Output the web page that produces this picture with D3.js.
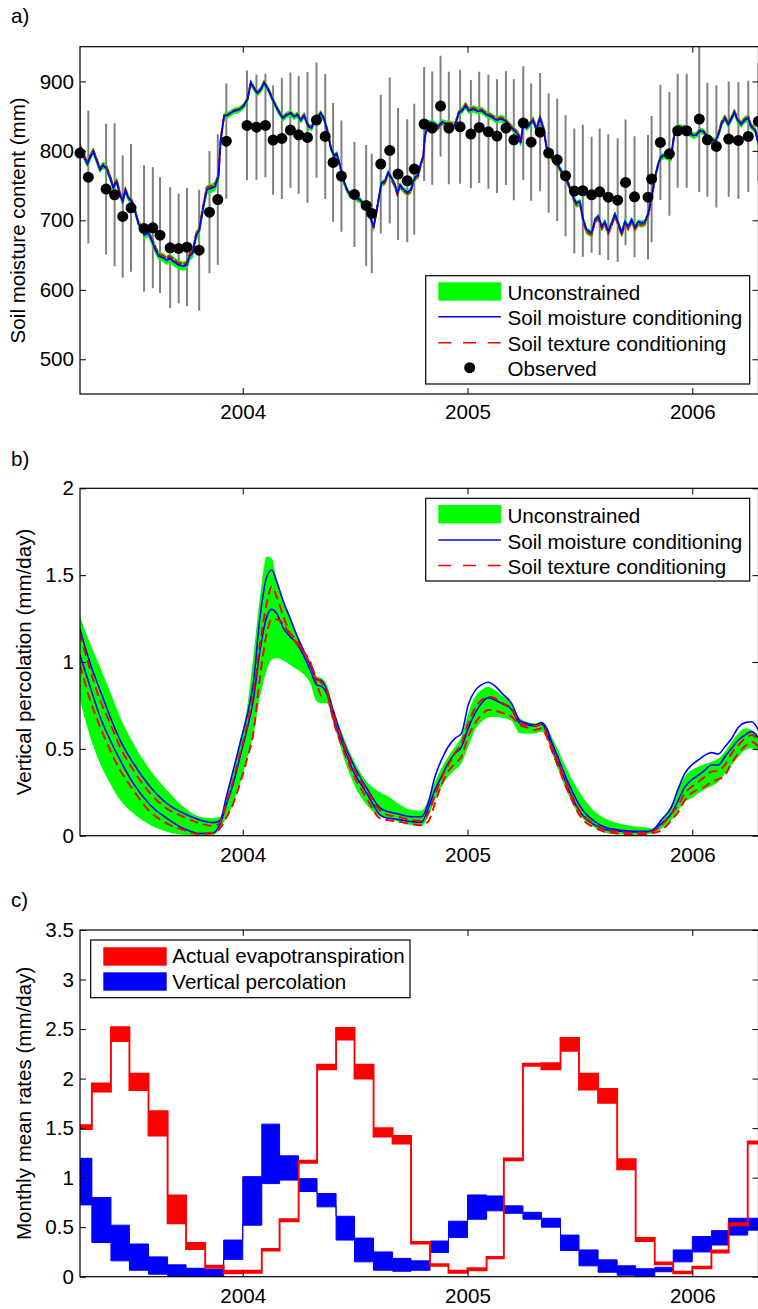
<!DOCTYPE html>
<html><head><meta charset="utf-8">
<script src="https://cdn.jsdelivr.net/npm/d3@7"></script>
<style>
body{margin:0;background:#fff;}
svg{display:block;}
</style></head><body>
<svg id="chart" width="758" height="1309"></svg>
<script>
// ---------------- DATA ----------------
const timeDomain = [2003.276, 2006.2945];
const yearTicks = [2004, 2005, 2006];

// Panel a: soil moisture content (mm)
const smDomain = [450, 950];
const smTicks = [500, 600, 700, 800, 900];
const smTime = [2003.276,2003.291,2003.309,2003.323,2003.335,2003.350,2003.365,2003.380,2003.395,2003.410,2003.424,2003.439,2003.454,2003.466,2003.478,2003.491,2003.506,2003.521,2003.536,2003.550,2003.562,2003.580,2003.595,2003.610,2003.625,2003.647,2003.662,2003.674,2003.691,2003.714,2003.736,2003.751,2003.763,2003.777,2003.792,2003.807,2003.825,2003.840,2003.858,2003.877,2003.892,2003.902,2003.917,2003.936,2003.958,2003.981,2004.003,2004.021,2004.036,2004.050,2004.065,2004.080,2004.095,2004.114,2004.137,2004.159,2004.178,2004.196,2004.214,2004.228,2004.243,2004.258,2004.273,2004.292,2004.307,2004.322,2004.337,2004.347,2004.362,2004.377,2004.392,2004.407,2004.418,2004.433,2004.448,2004.463,2004.478,2004.493,2004.507,2004.522,2004.537,2004.552,2004.567,2004.582,2004.593,2004.604,2004.617,2004.632,2004.647,2004.662,2004.677,2004.688,2004.700,2004.714,2004.733,2004.748,2004.758,2004.769,2004.780,2004.792,2004.803,2004.810,2004.825,2004.840,2004.855,2004.869,2004.887,2004.907,2004.921,2004.944,2004.961,2004.976,2004.991,2005.006,2005.025,2005.048,2005.062,2005.085,2005.107,2005.129,2005.148,2005.166,2005.181,2005.196,2005.211,2005.226,2005.237,2005.249,2005.263,2005.277,2005.292,2005.307,2005.322,2005.337,2005.352,2005.367,2005.381,2005.404,2005.426,2005.445,2005.460,2005.475,2005.485,2005.500,2005.515,2005.530,2005.552,2005.567,2005.582,2005.597,2005.611,2005.626,2005.641,2005.656,2005.671,2005.686,2005.700,2005.715,2005.730,2005.745,2005.760,2005.775,2005.789,2005.804,2005.819,2005.834,2005.849,2005.861,2005.875,2005.890,2005.905,2005.916,2005.923,2005.938,2005.953,2005.967,2005.982,2006.005,2006.019,2006.034,2006.049,2006.064,2006.086,2006.104,2006.119,2006.131,2006.145,2006.160,2006.175,2006.187,2006.202,2006.217,2006.232,2006.249,2006.261,2006.279,2006.294];
const smMoisture = [806,793,781,792,799,786,773,779,774,761,747,756,737,727,743,732,727,713,695,689,679,682,671,659,649,646,642,646,641,636,634,636,648,653,677,686,720,744,746,749,763,816,850,852,857,859,864,874,898,890,883,888,898,888,871,857,847,852,854,849,852,844,851,835,833,847,850,854,846,828,804,793,796,779,758,745,737,740,732,730,724,715,706,690,710,730,754,756,769,761,751,739,751,745,740,744,756,763,765,782,792,821,840,841,839,835,842,838,838,836,854,858,865,858,860,857,858,852,849,844,846,844,838,833,828,823,811,843,833,838,844,830,847,833,804,794,787,779,766,756,744,730,725,727,701,686,682,701,706,691,698,684,696,709,696,682,698,691,701,690,698,696,698,710,734,763,782,792,794,792,790,816,830,834,833,833,826,822,823,829,828,821,816,814,826,840,847,838,847,855,844,838,844,847,835,830,811];
const smTexture = [808,795,783,794,801,788,775,781,776,763,749,758,739,729,745,734,729,715,697,691,682,685,674,662,652,649,645,649,644,639,637,639,651,656,680,689,723,747,749,752,766,817,851,853,858,860,865,875,899,891,884,889,899,889,872,858,848,853,855,850,853,845,852,836,834,848,851,855,847,829,805,792,795,778,757,744,736,739,731,729,723,714,705,689,709,729,752,754,767,759,749,737,749,743,738,742,754,761,763,780,790,819,838,839,837,833,840,840,840,838,856,860,867,860,862,859,860,854,851,846,848,846,840,835,830,825,813,845,835,840,846,832,849,835,806,796,789,777,764,754,742,727,722,724,698,683,679,698,703,688,695,681,693,706,693,679,695,688,698,687,695,693,695,707,731,761,781,791,793,791,789,815,829,835,834,834,827,823,824,830,829,822,817,815,828,842,849,840,849,857,846,840,846,849,837,832,813];
const smUnconLo = [802,789,777,788,795,782,769,775,770,757,743,752,733,723,739,728,723,709,691,685,674,677,666,654,644,640,636,640,635,630,628,630,642,647,671,680,714,738,740,743,757,812,846,848,853,855,860,870,894,886,879,884,894,884,867,853,843,848,850,845,848,840,847,831,829,843,846,850,842,824,800,788,791,774,753,740,732,735,727,725,719,710,701,685,705,725,749,751,764,756,746,734,746,740,735,739,751,758,760,777,787,816,835,836,834,830,837,834,834,832,850,854,861,854,856,853,854,848,845,840,842,840,834,829,824,819,807,839,829,834,840,826,843,829,800,790,783,774,761,751,739,724,719,721,695,680,676,695,700,685,692,678,690,703,690,676,692,685,695,684,692,690,692,704,728,757,777,787,789,787,785,811,825,830,829,829,822,818,819,825,824,817,812,810,822,836,843,834,843,851,840,834,840,843,831,826,807];
const smUnconHi = [811,798,786,797,804,791,778,784,779,766,752,761,742,732,748,737,732,718,700,694,685,688,677,665,655,652,648,652,647,642,640,642,654,659,683,692,726,750,752,755,769,820,854,856,861,863,868,878,902,894,887,892,902,892,875,861,851,856,858,853,856,848,855,839,837,851,854,858,850,832,808,796,799,782,761,748,740,743,735,733,727,718,709,693,713,733,757,759,772,764,754,742,754,748,743,747,759,766,768,785,795,824,843,844,842,838,845,843,843,841,859,863,870,863,865,862,863,857,854,849,851,849,843,838,833,828,816,848,838,843,849,835,852,838,809,799,792,782,769,759,747,733,728,730,704,689,685,704,709,694,701,687,699,712,699,685,701,694,704,693,701,699,701,713,737,766,785,795,797,795,793,819,833,838,837,837,830,826,827,833,832,825,820,818,831,845,852,843,852,860,849,843,849,852,840,835,816];

const obsTime = [2003.276,2003.313,2003.392,2003.430,2003.466,2003.503,2003.561,2003.600,2003.632,2003.677,2003.715,2003.752,2003.806,2003.852,2003.889,2003.927,2004.019,2004.061,2004.101,2004.135,2004.174,2004.212,2004.249,2004.288,2004.328,2004.367,2004.402,2004.439,2004.497,2004.549,2004.574,2004.614,2004.654,2004.691,2004.732,2004.763,2004.807,2004.843,2004.880,2004.917,2004.967,2005.015,2005.052,2005.093,2005.131,2005.171,2005.206,2005.248,2005.283,2005.323,2005.361,2005.399,2005.436,2005.475,2005.513,2005.552,2005.588,2005.626,2005.668,2005.703,2005.743,2005.803,2005.819,2005.858,2005.898,2005.935,2005.975,2006.031,2006.067,2006.107,2006.162,2006.205,2006.249,2006.294];
const obsValue = [796.8,762.2,745,736.8,705.6,718,688.3,689.3,678.7,660.5,659.5,661.4,657.1,711.8,730,814,836.6,834.2,836.6,815.5,817.9,830,823.2,819.4,844.3,820.8,783.4,763.7,737.3,721.4,710,781,800.6,766.6,757,773.8,838.6,832.8,864.5,832.8,834.7,824.2,833.8,827.5,821.3,832.8,816,840,812.6,827,796.8,787.2,764.2,742.1,742.6,736.8,741.1,733.4,729.1,754.6,733.9,733.4,759.4,812.2,795.8,829,829,845.8,816,806.4,817,815,820.8,842.4];
const obsError = [98,95.5,94,103,88,92,91,87,83.5,87,79,85,87,88,94,83,79,75.6,74.4,78.5,87,83,85,94,83,90,85.4,80,75.6,87,86,100,105,95,88.6,94,82,81.6,72.5,81,82,78,80,82,82,82,87,82,84.5,85,86,88,87,90,95,83.5,91,90.5,89,90.5,87,89.5,91,83,89,82,82,105,82,88,83,84,80,85];

// Panel b: vertical percolation (mm/day)
const vpDomain = [0, 2];
const vpTicks = [0, 0.5, 1, 1.5, 2];
const vpTime = [2003.276,2003.321,2003.365,2003.410,2003.454,2003.513,2003.588,2003.662,2003.736,2003.810,2003.869,2003.899,2003.929,2003.958,2003.988,2004.018,2004.047,2004.077,2004.107,2004.129,2004.151,2004.181,2004.211,2004.240,2004.270,2004.300,2004.329,2004.352,2004.374,2004.404,2004.448,2004.493,2004.552,2004.611,2004.647,2004.691,2004.751,2004.795,2004.825,2004.855,2004.884,2004.914,2004.944,2004.973,2005.003,2005.033,2005.062,2005.092,2005.122,2005.151,2005.196,2005.233,2005.263,2005.300,2005.329,2005.352,2005.374,2005.404,2005.433,2005.463,2005.493,2005.522,2005.567,2005.611,2005.671,2005.730,2005.789,2005.819,2005.864,2005.908,2005.938,2005.967,2005.997,2006.027,2006.056,2006.086,2006.116,2006.145,2006.175,2006.205,2006.235,2006.264,2006.294];
const vpUnconHi = [1.261,1.107,0.973,0.829,0.685,0.532,0.378,0.263,0.167,0.109,0.100,0.109,0.244,0.378,0.551,0.724,1.031,1.376,1.607,1.597,1.472,1.357,1.261,1.165,1.079,0.996,0.916,0.906,0.868,0.733,0.570,0.436,0.311,0.250,0.225,0.186,0.148,0.144,0.205,0.311,0.388,0.455,0.512,0.570,0.704,0.800,0.839,0.858,0.839,0.810,0.762,0.676,0.656,0.647,0.656,0.628,0.570,0.493,0.407,0.330,0.263,0.205,0.138,0.100,0.071,0.056,0.048,0.042,0.090,0.177,0.273,0.340,0.378,0.397,0.413,0.426,0.445,0.484,0.541,0.589,0.618,0.608,0.580];
const vpUnconLo = [0.781,0.570,0.417,0.301,0.205,0.129,0.061,0.023,0.004,0.000,0.004,0.042,0.109,0.186,0.301,0.436,0.580,0.800,0.954,1.015,1.021,1.008,0.983,0.958,0.931,0.877,0.772,0.762,0.762,0.647,0.455,0.301,0.177,0.110,0.100,0.081,0.061,0.056,0.109,0.205,0.282,0.340,0.378,0.417,0.512,0.608,0.656,0.681,0.685,0.679,0.662,0.589,0.589,0.589,0.599,0.570,0.484,0.378,0.282,0.196,0.129,0.086,0.046,0.017,0.008,0.004,0.006,0.013,0.042,0.090,0.148,0.196,0.215,0.244,0.267,0.286,0.311,0.359,0.407,0.455,0.493,0.503,0.484];
const vpMoistHi = [1.188,0.992,0.839,0.685,0.551,0.417,0.282,0.186,0.129,0.090,0.075,0.086,0.234,0.378,0.532,0.685,0.877,1.261,1.491,1.530,1.463,1.347,1.251,1.155,1.069,0.983,0.900,0.891,0.839,0.714,0.541,0.407,0.273,0.160,0.138,0.125,0.109,0.109,0.186,0.340,0.436,0.512,0.560,0.589,0.752,0.835,0.868,0.883,0.862,0.823,0.762,0.662,0.647,0.637,0.651,0.618,0.541,0.445,0.349,0.263,0.186,0.132,0.081,0.048,0.033,0.027,0.025,0.029,0.094,0.167,0.273,0.359,0.407,0.436,0.464,0.478,0.470,0.512,0.560,0.624,0.651,0.656,0.608];
const vpMoistLo = [1.040,0.858,0.685,0.551,0.436,0.301,0.177,0.100,0.042,0.013,0.017,0.067,0.186,0.301,0.455,0.608,0.781,1.069,1.261,1.303,1.280,1.194,1.146,1.107,1.040,0.954,0.868,0.858,0.820,0.676,0.512,0.369,0.244,0.120,0.100,0.094,0.081,0.077,0.157,0.263,0.340,0.417,0.474,0.512,0.618,0.704,0.762,0.795,0.781,0.762,0.727,0.647,0.637,0.631,0.643,0.599,0.512,0.417,0.321,0.228,0.152,0.104,0.061,0.036,0.027,0.021,0.021,0.027,0.071,0.129,0.205,0.282,0.321,0.349,0.378,0.407,0.407,0.455,0.503,0.551,0.580,0.599,0.560];
const vpTextHi = [1.165,0.954,0.781,0.647,0.512,0.378,0.244,0.157,0.109,0.071,0.056,0.075,0.196,0.321,0.474,0.628,0.820,1.107,1.338,1.434,1.376,1.261,1.165,1.127,1.060,0.992,0.912,0.877,0.839,0.695,0.532,0.388,0.263,0.145,0.119,0.109,0.090,0.086,0.129,0.234,0.330,0.407,0.474,0.532,0.647,0.733,0.781,0.800,0.791,0.766,0.733,0.647,0.637,0.631,0.643,0.589,0.512,0.426,0.324,0.234,0.157,0.109,0.065,0.036,0.023,0.017,0.017,0.023,0.061,0.129,0.177,0.244,0.282,0.311,0.340,0.369,0.374,0.407,0.474,0.522,0.560,0.580,0.541];
const vpTextLo = [0.983,0.781,0.628,0.493,0.378,0.263,0.138,0.071,0.033,0.008,0.017,0.042,0.109,0.186,0.301,0.436,0.589,0.916,1.165,1.246,1.246,1.219,1.155,1.107,1.060,1.002,0.877,0.804,0.804,0.657,0.493,0.349,0.215,0.100,0.090,0.081,0.067,0.060,0.081,0.186,0.292,0.369,0.417,0.455,0.570,0.647,0.695,0.724,0.720,0.708,0.685,0.637,0.624,0.608,0.618,0.570,0.493,0.397,0.298,0.209,0.129,0.081,0.046,0.023,0.013,0.008,0.008,0.013,0.033,0.090,0.138,0.205,0.244,0.267,0.282,0.311,0.324,0.349,0.417,0.474,0.516,0.541,0.512];

// Panel c: monthly mean rates (mm/day)
const mrDomain = [0, 3.5];
const mrTicks = [0, 0.5, 1, 1.5, 2, 2.5, 3, 3.5];
const months = ["2003-04","2003-05","2003-06","2003-07","2003-08","2003-09","2003-10","2003-11","2003-12","2004-01","2004-02","2004-03","2004-04","2004-05","2004-06","2004-07","2004-08","2004-09","2004-10","2004-11","2004-12","2005-01","2005-02","2005-03","2005-04","2005-05","2005-06","2005-07","2005-08","2005-09","2005-10","2005-11","2005-12","2006-01","2006-02","2006-03","2006-04"];
const monthEnd = "2006-05";
const aetHi = [1.53,1.95,2.52,2.05,1.67,0.82,0.34,0.11,0.06,0.06,0.28,0.58,1.17,2.14,2.51,2.14,1.50,1.42,0.35,0.125,0.06,0.085,0.20,1.195,2.15,2.155,2.41,2.05,1.895,1.185,0.39,0.145,0.05,0.10,0.265,0.54,1.365];
const aetLo = [1.49,1.87,2.38,1.885,1.425,0.54,0.28,0.09,0.035,0.04,0.265,0.56,1.15,2.095,2.395,2.0,1.415,1.345,0.335,0.11,0.04,0.065,0.185,1.175,2.13,2.095,2.28,1.89,1.755,1.085,0.36,0.125,0.035,0.085,0.245,0.52,1.345];
const percHi = [1.195,0.80,0.52,0.33,0.20,0.12,0.085,0.075,0.37,1.01,1.54,1.22,0.99,0.84,0.61,0.39,0.25,0.185,0.16,0.36,0.56,0.825,0.815,0.715,0.65,0.59,0.42,0.27,0.17,0.11,0.08,0.095,0.27,0.405,0.465,0.59,0.59];
const percLo = [0.725,0.345,0.16,0.065,0.025,0.005,0.0,0.0,0.175,0.52,0.94,0.975,0.86,0.705,0.37,0.15,0.065,0.055,0.065,0.245,0.395,0.58,0.665,0.64,0.58,0.5,0.265,0.11,0.045,0.015,0.0,0.05,0.15,0.25,0.32,0.42,0.47];

// ---------------- DRAWING ----------------
const FONT = '"Liberation Sans", Arial, Helvetica, sans-serif';
const FS = 20.6;
const GREEN = '#00ff00', BLUE = '#0000ff', RED = '#ff0000', GRAY = '#808080';
const Lx = 80, Rx = 758.5;
const svg = d3.select('#chart').attr('font-family', FONT);
svg.append('rect').attr('width', 758).attr('height', 1309).attr('fill', '#fff');
const x = d3.scaleLinear().domain(timeDomain).range([Lx, Rx]);

function decYear(s) {
  const [yy, mm] = s.split('-').map(Number);
  const d0 = Date.UTC(yy, 0, 1), d1 = Date.UTC(yy + 1, 0, 1), d = Date.UTC(yy, mm - 1, 1);
  return yy + (d - d0) / (d1 - d0);
}

function panel(id, top, bottom, yDomain) {
  const y = d3.scaleLinear().domain(yDomain).range([bottom, top]);
  svg.append('clipPath').attr('id', 'clip-' + id)
    .append('rect').attr('x', Lx).attr('y', top).attr('width', Rx - Lx).attr('height', bottom - top);
  const g = svg.append('g');
  const data = g.append('g').attr('clip-path', `url(#clip-${id})`);
  return { y, g, data, top, bottom };
}

function frame(p, yTicks, yLabel, yLabelX, letter, letterY, xPad) {
  const fmt = v => String(v);
  const style = sel => { sel.attr('font-size', FS).attr('font-family', FONT);
    sel.select('.domain').remove();
    sel.selectAll('.tick line').attr('stroke', '#000').attr('stroke-width', 1);
    sel.selectAll('.tick text').attr('fill', '#000'); };
  p.g.append('g').attr('transform', `translate(${Lx},0)`)
    .call(d3.axisLeft(p.y).tickValues(yTicks).tickFormat(fmt).tickSizeInner(-6).tickSizeOuter(0).tickPadding(6)).call(style);
  p.g.append('g').attr('transform', `translate(${Rx},0)`)
    .call(d3.axisRight(p.y).tickValues(yTicks).tickFormat('').tickSizeInner(-6).tickSizeOuter(0)).call(style);
  p.g.append('g').attr('transform', `translate(0,${p.bottom})`)
    .call(d3.axisBottom(x).tickValues(yearTicks).tickFormat(d3.format('d')).tickSizeInner(-6).tickSizeOuter(0).tickPadding(xPad)).call(style);
  p.g.append('g').attr('transform', `translate(0,${p.top})`)
    .call(d3.axisTop(x).tickValues(yearTicks).tickFormat('').tickSizeInner(-6).tickSizeOuter(0)).call(style);
  p.g.append('rect').attr('x', Lx).attr('y', p.top).attr('width', Rx - Lx).attr('height', p.bottom - p.top)
    .attr('fill', 'none').attr('stroke', '#000').attr('stroke-width', 1.2);
  p.g.append('text').attr('transform', `translate(${yLabelX},${(p.top + p.bottom) / 2}) rotate(-90)`)
    .attr('text-anchor', 'middle').attr('font-size', FS).text(yLabel);
  svg.append('text').attr('x', 11).attr('y', letterY).attr('font-size', FS).text(letter);
}

// ---------- Panel a ----------
const pa = panel('a', 46.7, 394, smDomain);
const sm = smTime.map((t, i) => ({ t, b: smMoisture[i], r: smTexture[i], lo: smUnconLo[i], hi: smUnconHi[i] }));
const obs = obsTime.map((t, i) => ({ t, v: obsValue[i], e: obsError[i] }));
pa.data.selectAll('line.err').data(obs).join('line').attr('class', 'err')
  .attr('x1', d => x(d.t)).attr('x2', d => x(d.t))
  .attr('y1', d => pa.y(d.v - d.e)).attr('y2', d => pa.y(d.v + d.e))
  .attr('stroke', GRAY).attr('stroke-width', 2);
pa.data.append('path').datum(sm).attr('fill', GREEN).attr('stroke', GREEN).attr('stroke-width', 1)
  .attr('d', d3.area().x(d => x(d.t)).y0(d => pa.y(d.lo)).y1(d => pa.y(d.hi)));
pa.data.append('path').datum(sm).attr('fill', 'none').attr('stroke', RED).attr('stroke-width', 2)
  .attr('stroke-dasharray', '8,2').attr('d', d3.line().x(d => x(d.t)).y(d => pa.y(d.r)));
pa.data.append('path').datum(sm).attr('fill', 'none').attr('stroke', BLUE).attr('stroke-width', 1.8)
  .attr('d', d3.line().x(d => x(d.t)).y(d => pa.y(d.b)));
pa.g.selectAll('circle.obs').data(obs).join('circle').attr('class', 'obs')
  .attr('cx', d => x(d.t)).attr('cy', d => pa.y(d.v)).attr('r', 5.5).attr('fill', '#000');
frame(pa, smTicks, 'Soil moisture content (mm)', 24.5, 'a)', 22.5, 10);
// legend a
{
  const lg = pa.g.append('g');
  lg.append('rect').attr('x', 425.7).attr('y', 275.7).attr('width', 324).attr('height', 108.3)
    .attr('fill', '#fff').attr('stroke', '#000').attr('stroke-width', 1.2);
  lg.append('rect').attr('x', 438.3).attr('y', 282.3).attr('width', 62.7).attr('height', 18.4).attr('fill', GREEN);
  lg.append('line').attr('x1', 438.3).attr('x2', 501).attr('y1', 316.7).attr('y2', 316.7).attr('stroke', BLUE).attr('stroke-width', 1.5);
  lg.append('line').attr('x1', 438.3).attr('x2', 501).attr('y1', 342.7).attr('y2', 342.7).attr('stroke', RED).attr('stroke-width', 1.6).attr('stroke-dasharray', '13,11.7');
  lg.append('circle').attr('cx', 469.7).attr('cy', 367.7).attr('r', 5.5).attr('fill', '#000');
  ['Unconstrained', 'Soil moisture conditioning', 'Soil texture conditioning', 'Observed'].forEach((s, i) => {
    lg.append('text').attr('x', 507.5).attr('y', 300 + i * 25.3).attr('font-size', FS).text(s);
  });
}

// ---------- Panel b ----------
const pb = panel('b', 488.3, 835.7, vpDomain);
const vp = vpTime.map((t, i) => ({ t, gh: vpUnconHi[i], gl: vpUnconLo[i], bh: vpMoistHi[i], bl: vpMoistLo[i], rh: vpTextHi[i], rl: vpTextLo[i] }));
const cv = d3.curveMonotoneX;
pb.data.append('path').datum(vp).attr('fill', GREEN)
  .attr('d', d3.area().curve(cv).x(d => x(d.t)).y0(d => pb.y(d.gl)).y1(d => pb.y(d.gh)));
['bh', 'bl'].forEach(k => pb.data.append('path').datum(vp).attr('fill', 'none').attr('stroke', BLUE).attr('stroke-width', 1.6)
  .attr('d', d3.line().curve(cv).x(d => x(d.t)).y(d => pb.y(d[k]))));
['rh', 'rl'].forEach(k => pb.data.append('path').datum(vp).attr('fill', 'none').attr('stroke', RED).attr('stroke-width', 1.9)
  .attr('stroke-dasharray', '9,5').attr('d', d3.line().curve(cv).x(d => x(d.t)).y(d => pb.y(d[k]))));
frame(pb, vpTicks, 'Vertical percolation (mm/day)', 31, 'b)', 466, 11.5);
{
  const lg = pb.g.append('g');
  lg.append('rect').attr('x', 425.7).attr('y', 498.3).attr('width', 324).attr('height', 82.7)
    .attr('fill', '#fff').attr('stroke', '#000').attr('stroke-width', 1.2);
  lg.append('rect').attr('x', 438.3).attr('y', 505).attr('width', 62.7).attr('height', 18.4).attr('fill', GREEN);
  lg.append('line').attr('x1', 438.3).attr('x2', 501).attr('y1', 540).attr('y2', 540).attr('stroke', BLUE).attr('stroke-width', 1.5);
  lg.append('line').attr('x1', 438.3).attr('x2', 501).attr('y1', 565.5).attr('y2', 565.5).attr('stroke', RED).attr('stroke-width', 1.6).attr('stroke-dasharray', '13,11.7');
  ['Unconstrained', 'Soil moisture conditioning', 'Soil texture conditioning'].forEach((s, i) => {
    lg.append('text').attr('x', 507.5).attr('y', 522.7 + i * 25.8).attr('font-size', FS).text(s);
  });
}

// ---------- Panel c ----------
const pc = panel('c', 930, 1276.7, mrDomain);
function steps(hiArr, loArr) {
  const pts = months.map((m, i) => ({ t: decYear(m), hi: hiArr[i], lo: loArr[i] }));
  const last = pts[pts.length - 1];
  pts.push({ t: decYear(monthEnd), hi: last.hi, lo: last.lo });
  return pts;
}
const stepArea = d3.area().curve(d3.curveStepAfter).x(d => x(d.t)).y0(d => pc.y(d.lo)).y1(d => pc.y(d.hi));
pc.data.append('path').datum(steps(percHi, percLo)).attr('fill', BLUE).attr('stroke', BLUE).attr('stroke-width', 1)
  .attr('d', stepArea);
pc.data.append('path').datum(steps(aetHi, aetLo)).attr('fill', RED).attr('stroke', RED).attr('stroke-width', 1.9)
  .attr('d', stepArea);
frame(pc, mrTicks, 'Monthly mean rates (mm/day)', 30.5, 'c)', 907, 11.5);
{
  const lg = pc.g.append('g');
  lg.append('rect').attr('x', 90.7).attr('y', 940).attr('width', 319.3).attr('height', 57.7)
    .attr('fill', '#fff').attr('stroke', '#000').attr('stroke-width', 1.2);
  lg.append('rect').attr('x', 103.3).attr('y', 947.3).attr('width', 63.4).attr('height', 18.4).attr('fill', RED);
  lg.append('rect').attr('x', 103.3).attr('y', 972.3).attr('width', 63.4).attr('height', 18.4).attr('fill', BLUE);
  ['Actual evapotranspiration', 'Vertical percolation'].forEach((s, i) => {
    lg.append('text').attr('x', 172.3).attr('y', 963.3 + i * 25.7).attr('font-size', FS).text(s);
  });
}
</script>
</body></html>
